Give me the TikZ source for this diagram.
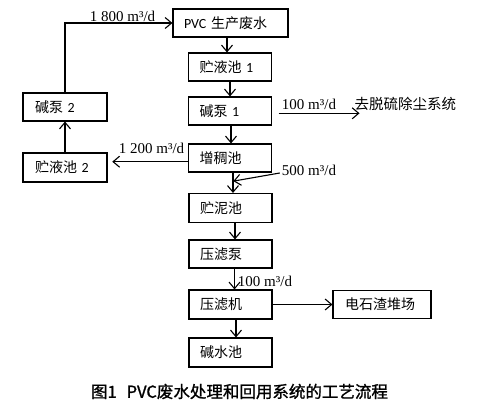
\documentclass[tikz,border=0pt]{standalone}
\usepackage{fontspec}
\setmainfont{Liberation Serif}
\newfontfamily\cjk{Noto Sans CJK SC}
\newfontfamily\cjkcap[FakeBold=1.2]{Noto Sans CJK SC}
\newfontfamily\carl{Carlito}
\usetikzlibrary{arrows.meta}
\begin{document}
\begin{tikzpicture}[x=1pt,y=-1pt,
  box/.style={draw, line width=1.1pt, minimum height=28pt, inner ysep=0pt, align=left, anchor=center, font=\cjk\fontsize{14}{16}\selectfont},
  cbox/.style={box, text width=61pt, inner xsep=11pt},
  arr/.style={line width=1.1pt, -{Straight Barb[length=6.5pt,width=11pt]}},
  lab/.style={font=\fontsize{15}{17}\selectfont, inner sep=0pt},
]
\useasboundingbox (0,0) rectangle (480,406);
% boxes
\node[box, text width=93pt, inner xsep=11pt] (pvc) at (230.5,23) {{\carl PVC} 生产废水};
\node[cbox] (l1) at (230,67) {贮液池 {\carl 1}};
\node[cbox] (b1) at (230,111) {碱泵 {\carl 1}};
\node[cbox] (zc) at (230,158) {增稠池};
\node[cbox, minimum height=29pt] (zn) at (230.5,208) {贮泥池};
\node[cbox] (ylb) at (230.5,254) {压滤泵};
\node[cbox, minimum height=29pt] (ylj) at (230.5,304.5) {压滤机};
\node[cbox, minimum height=29pt] (jsc) at (230.5,352.5) {碱水池};
\node[box, text width=74pt, inner xsep=12pt] (dsz) at (382,304.5) {电石渣堆场};
\node[box, text width=60pt, inner xsep=12pt] (b2) at (65,107) {碱泵 {\carl 2}};
\node[box, text width=60pt, inner xsep=12pt, minimum height=29pt] (l2) at (65,167.5) {贮液池 {\carl 2}};
\node[anchor=west, inner sep=0pt, font=\cjk\fontsize{14.5}{16}\selectfont] (sys) at (354.5,104) {去脱硫除尘系统};
% labels
\node[lab] (q1) at (122.5,16.5) {1 800 m³/d};
\node[lab] (q2) at (309,104) {100 m³/d};
\node[lab] (q3) at (151.5,148.5) {1 200 m³/d};
\node[lab] (q4) at (309,170.5) {500 m³/d};
\node[lab] (q5) at (265,281) {100 m³/d};
% caption
\node[font=\cjkcap\fontsize{16.5}{18}\selectfont, inner sep=0pt] (cap) at (239.5,391.5) {图1\hspace{0.6em}PVC废水处理和回用系统的工艺流程};
% connectors
\draw[arr] (b2.north) |- (pvc.west);
\draw[arr] (l2.north) -- (b2.south);
\draw[arr] ([xshift=-3.5pt]pvc.south) -- ([xshift=-3pt]l1.north);
\draw[arr] (l1.south) -- (b1.north);
\draw[arr] ([xshift=1pt]b1.south) -- ([xshift=1pt]zc.north);
\draw[arr] ([xshift=3pt]zc.south) -- ([xshift=2.5pt]zn.north);
\draw[arr] ([xshift=4.5pt]zn.south) -- ([xshift=4.5pt]ylb.north);
\draw[arr] ([xshift=4pt]ylb.south) -- ([xshift=4pt]ylj.north);
\draw[arr] ([xshift=5.5pt]ylj.south) -- ([xshift=5.5pt]jsc.north);
\draw[arr] ([xshift=6.5pt,yshift=-2.3pt]b1.east) -- ++(81,0);
\draw[arr] ([yshift=-3.7pt]zc.west) -- ++(-75.7,0);
\draw[arr] ([xshift=-2pt,yshift=-2.5pt]q4.west) -- ([xshift=2.8pt,yshift=11.8pt]zn.north);
\draw[arr] (ylj.east) -- (dsz.west);
\end{tikzpicture}
\end{document}
